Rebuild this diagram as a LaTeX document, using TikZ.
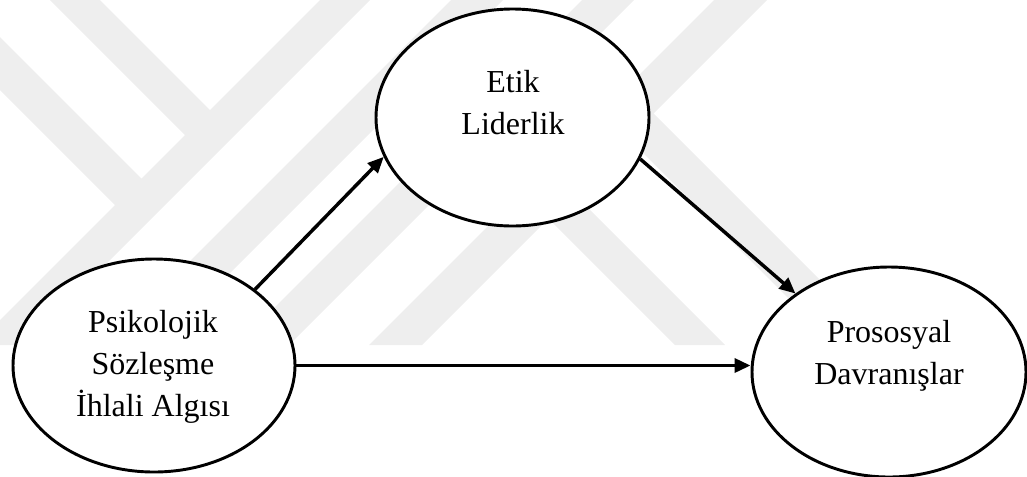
\documentclass[tikz,border=0pt]{standalone}
\usepackage{fontspec}
\setmainfont{Liberation Serif}
\usetikzlibrary{shapes.geometric,arrows.meta,calc}
\definecolor{wm}{HTML}{EEEEEE}
\begin{document}
\begin{tikzpicture}[x=0.75pt,y=-0.75pt,
  ell/.style={ellipse, draw=black, line width=2.2pt, fill=white, inner sep=0pt},
  lbl/.style={align=center, inner sep=0pt, font=\fontsize{24}{31.5}\selectfont},
  arr/.style={line width=2.6pt, -{Triangle[length=12pt,width=10.5pt]}},
  band/.style={fill=wm, draw=none}]
\useasboundingbox (0,0) rectangle (1027,476);
% faint watermark
\begin{scope}
  \clip (0,0) rectangle (1027,345);
  \fill[band] (320,0) -- (370,0) -- (25,345) -- (-25,345) -- cycle;
  \fill[band] (451,0) -- (503,0) -- (158,345) -- (106,345) -- cycle;
  \fill[band] (582,0) -- (634,0) -- (289,345) -- (237,345) -- cycle;
  \fill[band] (714,0) -- (767,0) -- (422,345) -- (369,345) -- cycle;
  \fill[band] (50,0) -- (100,0) -- (222.5,122.5) -- (197.5,147.5) -- cycle;
  \fill[band] (0,37) -- (0,90) -- (127.5,217.5) -- (154,191) -- cycle;
  \fill[band] (615,125) -- (640,100) -- (885,345) -- (835,345) -- cycle;
  \fill[band] (535,205) -- (560,180) -- (725,345) -- (675,345) -- cycle;
\end{scope}
% nodes
\node[ell, minimum width=204.75pt, minimum height=162.75pt] (etik) at (512.5,117.5) {};
\node[ell, minimum width=211.5pt, minimum height=159.75pt] (psik) at (154,365.5) {};
\node[ell, minimum width=205.5pt, minimum height=157.5pt] (pros) at (889,372) {};
\node[lbl] (etiktxt) at (513,103) {Etik\\Liderlik};
\node[lbl] (psiktxt) at (153,367) {Psikolojik\\Sözleşme\\İhlali Algısı};
\node[lbl] (prostxt) at (889,356) {Prososyal\\Davranışlar};
% connectors
\draw[arr] (psik.37) -- (etik.197);
\draw[arr] (etik.342) -- (pros.140);
\draw[arr] (psik.east) -- (psik.east -| pros.west);
\end{tikzpicture}
\end{document}
